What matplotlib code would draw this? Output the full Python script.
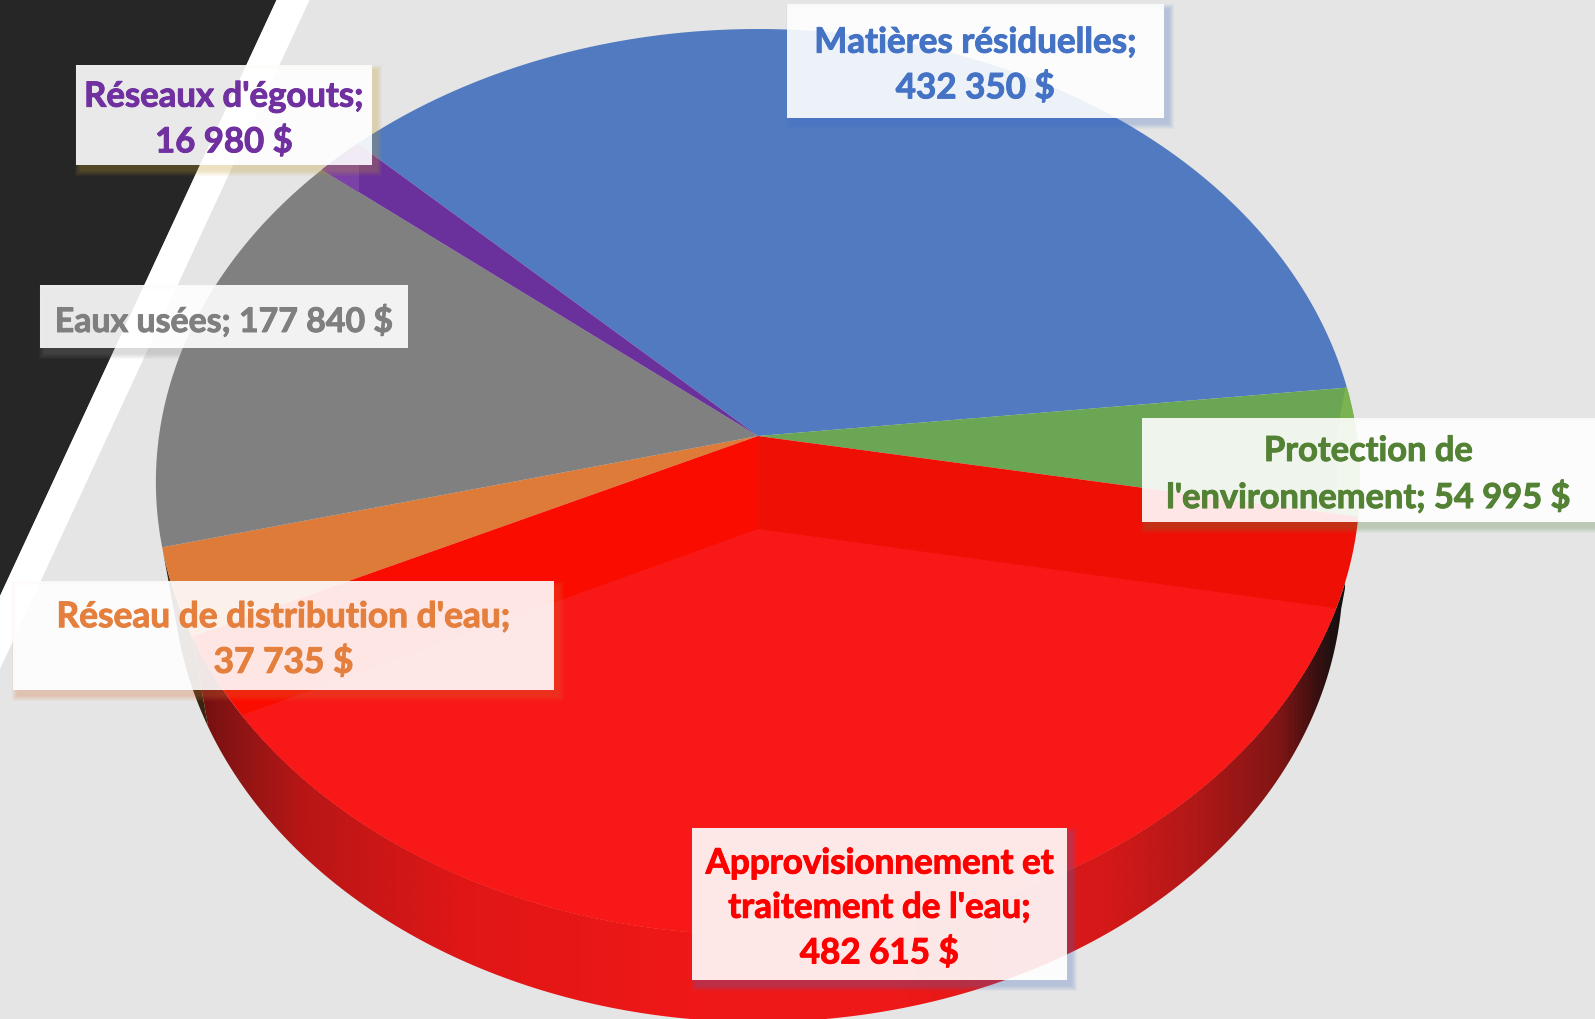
import numpy as np
import matplotlib
matplotlib.use('Agg')
import matplotlib.pyplot as plt
import matplotlib.patheffects as pe
from matplotlib.colors import LinearSegmentedColormap
from matplotlib.patches import Polygon, Rectangle, PathPatch
from matplotlib.path import Path

plt.rcParams['font.family'] = ['Lato', 'DejaVu Sans']

# slices, clockwise starting from the blue one
categories = ['Matières résiduelles', 'Protection de l\'environnement', 'Approvisionnement et traitement de l\'eau',
              'Réseau de distribution d\'eau', 'Eaux usées', 'Réseaux d\'égouts']
values = [432350, 54995, 482615, 37735, 177840, 16980]
colors = ['#517AC1', '#6AA653', '#FB0C00', '#DE7B38', '#808080', '#6A309B']
label_texts = ['Matières résiduelles;\n432 350 $', 'Protection de\nl\'environnement; 54 995 $',
               'Approvisionnement et\ntraitement de l\'eau;\n482 615 $', 'Réseau de distribution d\'eau;\n37 735 $',
               'Eaux usées; 177 840 $', 'Réseaux d\'égouts;\n16 980 $']
label_colors = ['#4472C4', '#548235', '#FF0000', '#E57F3D', '#7F7F7F', '#7030A0']
shadow_colors = ['#4472C4', '#5F8F45', '#4472C4', '#D9743A', '#8A8A8A', '#C9A030']
# x0, y0, x1, y1 of the label boxes in pixels
label_boxes = [(787, 5, 1164, 119), (1142, 419, 1595, 523), (692, 829, 1067, 981),
               (13, 582, 554, 691), (40, 286, 408, 349), (76, 66, 372, 166)]
label_sizes = [25.2, 24.8, 25.2, 25.4, 24.4, 25]

START_ANGLE = 135.7
# perspective disc: apex x, apex y, half width, height factor, tilt
TOP = (758, 437, 599, 448.3, 0.1015)
BOTTOM = (758, 530, 582, 443.5, 0.1004)


def disc_points(angles, disc):
    cx, cy, a, b, k = disc
    t = np.radians(angles)
    w = 1 + k * np.sin(t)
    return np.column_stack([cx + a * np.cos(t) / w, cy - b * np.sin(t) / w])


def wedge(a0, a1, disc):
    arc = disc_points(np.linspace(a0, a1, 200), disc)
    return np.vstack([[disc[0], disc[1]], arc])


def clipped(artist, patch):
    ax.add_patch(patch)
    patch.set_visible(False)
    artist.set_clip_path(patch)


fig = plt.figure(figsize=(15.95, 10.2), dpi=100, facecolor='#E5E5E5')
ax = fig.add_axes([0, 0, 1, 1])
ax.set_xlim(0, 1595)
ax.set_ylim(1020, 0)
ax.axis('off')

# slanted corner decoration
ax.add_patch(Polygon([(0, 0), (277, 0), (0, 597)], fc='#262626', ec='none'))
ax.add_patch(Polygon([(277, 0), (310, 0), (0, 670), (0, 597)], fc='white', ec='none'))

total = sum(values)
sweeps = [v / total * 360 for v in values]
edges = START_ANGLE - np.concatenate([[0], np.cumsum(sweeps)])

# side wall of the orange slice, almost black
o0, o1 = edges[3], edges[4]
wall = np.vstack([disc_points(np.linspace(o0, o1, 60), TOP), disc_points(np.linspace(o1, o0, 60), BOTTOM)])
ax.add_patch(Polygon(wall, fc='#3A2410', ec='none'))

# side wall of the red slice, shaded from left to right
r0, r1 = edges[2], edges[3]
wall = np.vstack([disc_points(np.linspace(r0, r1, 200), TOP), disc_points(np.linspace(r1, r0, 200), BOTTOM)])
stops = [(165, '#2A1008'), (195, '#701010'), (230, '#8A1414'), (300, '#B81616'), (460, '#E01616'), (700, '#F01818'),
         (900, '#EE1818'), (1113, '#D41818'), (1200, '#B01818'), (1283, '#801515'), (1320, '#3A1010'), (1345, '#101010')]
cmap = LinearSegmentedColormap.from_list('rim', [((x - 165) / 1180, c) for x, c in stops])
im = ax.imshow(np.linspace(0, 1, 600).reshape(1, -1), cmap=cmap, extent=(165, 1345, 1030, 500), aspect='auto')
clipped(im, Polygon(wall, transform=ax.transData))
ax.set_xlim(0, 1595)
ax.set_ylim(1020, 0)

# top faces
for i in [0, 1, 3, 4, 5]:
    ax.add_patch(Polygon(wedge(edges[i], edges[i + 1], TOP), fc=colors[i], ec='none'))

# lighter outer bits where the far wall shows through
sliver = ax.add_patch(Polygon([(1347, 380), (1337, 433), (1337, 530), (1370, 530), (1370, 380)], fc='#7AB350', ec='none'))
clipped(sliver, Polygon(wedge(edges[1], edges[2], TOP), transform=ax.transData))
sliver = ax.add_patch(Rectangle((300, 100), 59, 100, fc='#7B41A8', ec='none'))
clipped(sliver, Polygon(wedge(edges[5], edges[6], TOP), transform=ax.transData))

# red top face: two tones split at the axis, bright where the bottom face is seen through
for x0, c in [(0, '#FB0C00'), (758, '#EE1005')]:
    part = ax.add_patch(Rectangle((x0, 0), 758 if x0 == 0 else 837, 1020, fc=c, ec='none'))
    clipped(part, Polygon(wedge(r0, r1, TOP), transform=ax.transData))
bright = ax.add_patch(Polygon(wedge(r0, r1, BOTTOM), fc='#F91818', ec='none'))
clipped(bright, Polygon(wedge(r0, r1, TOP), transform=ax.transData))

# data labels
for text, col, shcol, (x0, y0, x1, y1), size in zip(label_texts, label_colors, shadow_colors, label_boxes, label_sizes):
    inner = [(x0, y0), (x0, y1), (x1, y1), (x1, y0), (x0, y0)]
    for e in [0.5, 1.5, 2.5, 3.5, 4.5, 5.5]:
        outer = [(x0 + 4 - e, y0 + 5 - e), (x1 + 4 + e, y0 + 5 - e), (x1 + 4 + e, y1 + 5 + e), (x0 + 4 - e, y1 + 5 + e), (x0 + 4 - e, y0 + 5 - e)]
        codes = [Path.MOVETO, Path.LINETO, Path.LINETO, Path.LINETO, Path.CLOSEPOLY] * 2
        ax.add_patch(PathPatch(Path(outer + inner, codes), fc=shcol, ec='none', alpha=0.055))
    ax.add_patch(Rectangle((x0, y0), x1 - x0, y1 - y0, fc='white', ec='none', alpha=0.9))
    t = ax.text((x0 + x1) / 2, (y0 + y1) / 2 + 4.5, text, color=col, fontsize=size, fontweight='bold',
                ha='center', va='center', linespacing=1.47, multialignment='center')
    t.set_path_effects([pe.withStroke(linewidth=0.7, foreground=col)])

fig.savefig('out.png', dpi=100, facecolor=fig.get_facecolor())
